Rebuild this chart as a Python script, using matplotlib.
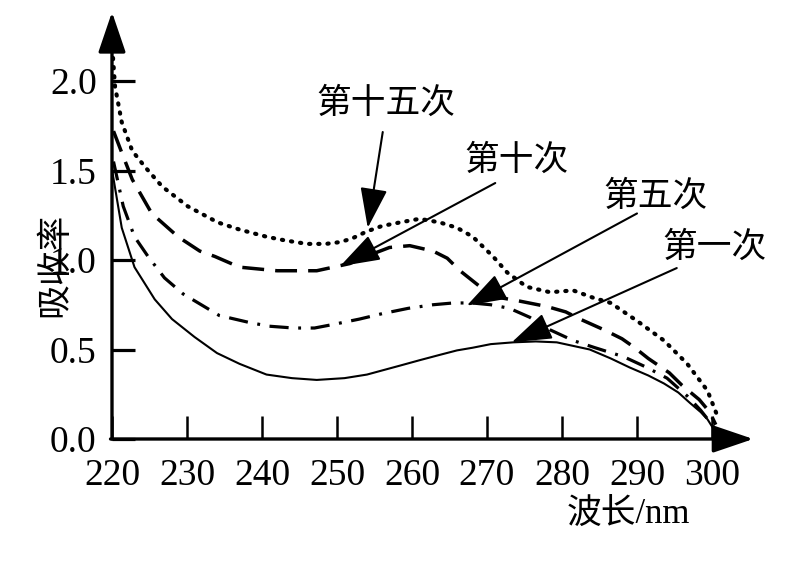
#!/usr/bin/env python3
"""Absorbance vs wavelength after repeated runs (recreated figure)."""

import matplotlib
matplotlib.use('Agg')  # Non-interactive backend
import matplotlib.pyplot as plt

plt.rcParams['font.family'] = ['Liberation Serif', 'Noto Sans CJK SC']

# Curves: wavelength (nm) and absorbance
x_run1 = [220.1, 221.3, 223.0, 225.7, 228.0, 231.0, 234.0, 237.0, 240.6, 244.0,
          247.3, 251.0, 254.0, 258.4, 261.0, 263.7, 266.0, 268.1, 270.5, 273.5,
          276.5, 279.3, 281.5, 283.7, 286.5, 289.0, 291.5, 293.6, 295.5, 297.1,
          298.5, 299.4, 300.3]
y_run1 = [1.48, 1.18, 0.96, 0.78, 0.67, 0.57, 0.48, 0.42, 0.36, 0.34,
          0.33, 0.34, 0.36, 0.41, 0.44, 0.47, 0.495, 0.51, 0.53, 0.54,
          0.545, 0.54, 0.52, 0.50, 0.45, 0.40, 0.355, 0.31, 0.26, 0.20,
          0.15, 0.11, 0.05]

x_run5 = [220.2, 221.5, 223.0, 224.8, 227.0, 229.5, 231.5, 234.3, 238.4, 241.0,
          244.2, 247.0, 249.5, 253.0, 256.0, 259.5, 262.8, 265.5, 268.0, 270.5,
          273.0, 275.7, 278.4, 281.5, 284.4, 288.2, 291.3, 294.0, 296.7, 298.5,
          300.2]
y_run5 = [1.55, 1.30, 1.13, 1.02, 0.90, 0.81, 0.76, 0.69, 0.65, 0.63,
          0.62, 0.62, 0.64, 0.67, 0.70, 0.73, 0.75, 0.76, 0.76, 0.75,
          0.73, 0.68, 0.61, 0.55, 0.51, 0.46, 0.40, 0.34, 0.24, 0.16,
          0.07]

x_run10 = [220.2, 221.3, 222.7, 225.3, 228.8, 231.7, 233.7, 237.0, 242.0, 247.3,
           251.7, 254.5, 257.0, 259.7, 262.8, 264.7, 266.4, 269.1, 271.7, 274.4,
           278.0, 280.5, 282.4, 285.6, 288.0, 289.7, 291.5, 294.3, 296.0, 298.3,
           299.7, 300.5]
y_run10 = [1.72, 1.60, 1.45, 1.26, 1.13, 1.05, 1.02, 0.96, 0.94, 0.94,
           0.98, 1.03, 1.07, 1.08, 1.05, 1.01, 0.94, 0.85, 0.79, 0.77,
           0.74, 0.71, 0.67, 0.61, 0.56, 0.51, 0.45, 0.37, 0.30, 0.22,
           0.15, 0.08]

x_run15 = [220.05, 220.4, 221.3, 222.7, 224.4, 226.7, 230.1, 234.1, 237.0, 240.6,
           243.0, 246.0, 248.5, 250.4, 252.0, 254.0, 256.0, 258.4, 261.0, 263.7,
           266.0, 268.1, 270.8, 272.7, 275.3, 278.4, 281.5, 284.1, 286.5, 290.0,
           293.6, 296.7, 299.4, 300.8]
y_run15 = [2.18, 1.97, 1.77, 1.61, 1.52, 1.41, 1.30, 1.21, 1.17, 1.13,
           1.11, 1.09, 1.09, 1.10, 1.12, 1.16, 1.19, 1.21, 1.23, 1.21,
           1.18, 1.13, 1.02, 0.93, 0.85, 0.82, 0.83, 0.79, 0.76, 0.66,
           0.55, 0.42, 0.27, 0.12]

run_labels = ['第一次', '第五次', '第十次', '第十五次']
x_ticks = [220, 230, 240, 250, 260, 270, 280, 290, 300]
y_ticks = [0.0, 0.5, 1.0, 1.5, 2.0]


def draw_arrow(ax, tip, tail, lw):
    ax.annotate('', xy=tip, xytext=tail, annotation_clip=False,
                arrowprops=dict(arrowstyle='-|>,head_length=2.5,head_width=0.85',
                                mutation_scale=10, lw=lw, color='black',
                                shrinkA=0, shrinkB=0))


def main():
    fig = plt.figure(figsize=(7.97, 5.76), dpi=100)
    ax = fig.add_axes([112 / 797, 137 / 576, 600 / 797, 358 / 576])

    # curves
    ax.plot(x_run1, y_run1, '-', color='black', lw=1.5, clip_on=False)
    ax.plot(x_run5, y_run5, color='black', lw=2.3, clip_on=False,
            linestyle=(0, (6.0, 3.0, 0.9, 3.0)), dash_capstyle='butt')
    ax.plot(x_run10, y_run10, color='black', lw=2.5, clip_on=False,
            linestyle=(0, (6.3, 3.2)), dash_capstyle='butt')
    ax.plot(x_run15, y_run15, color='black', lw=3.0, clip_on=False,
            linestyle=(0, (0.3, 1.9)), dash_capstyle='round')

    ax.set_xlim(220, 300)
    ax.set_ylim(0, 2)
    for s in ax.spines.values():
        s.set_visible(False)

    # axes with arrow heads
    draw_arrow(ax, (220, 2.385), (220, 0), 2.4)
    draw_arrow(ax, (305.5, 0), (219.8, 0), 2.4)

    ax.set_xticks(x_ticks)
    ax.set_xticklabels([str(v) for v in x_ticks])
    ax.set_yticks(y_ticks)
    ax.set_yticklabels([f'{v:.1f}' for v in y_ticks])
    ax.tick_params(axis='x', direction='in', length=16.5, width=1.8,
                   pad=14, labelsize=27)
    ax.tick_params(axis='y', direction='in', length=16.5, width=2.3,
                   pad=11, labelsize=27)

    ax.set_ylabel('吸收率', fontsize=25, family=['Noto Sans CJK SC'])
    ax.yaxis.set_label_coords(-0.067, 0.486)
    ax.set_xlabel('波长/nm', fontsize=25)
    ax.xaxis.set_label_coords(0.86, -0.165)

    # callouts: label text position, arrow tail, arrow tip
    callouts = {
        '第十五次': ((256.5, 1.877), (256.1, 1.715), (254.1, 1.18)),
        '第十次': ((274.0, 1.559), (271.1, 1.43), (250.4, 0.965)),
        '第五次': ((292.5, 1.358), (290.0, 1.26), (267.3, 0.745)),
        '第一次': ((300.3, 1.073), (295.3, 0.955), (273.3, 0.54)),
    }
    for name in run_labels:
        txt, tail, tip = callouts[name]
        ax.text(txt[0], txt[1], name, fontsize=25, ha='center', va='center',
                family=['Noto Sans CJK SC'], clip_on=False)
        draw_arrow(ax, tip, tail, 1.5)

    plt.savefig('out.png', dpi=100)


if __name__ == "__main__":
    main()
